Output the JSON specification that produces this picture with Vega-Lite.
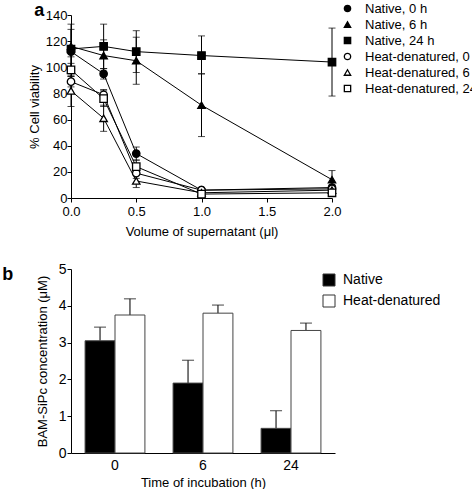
{
  "$schema": "https://vega.github.io/schema/vega-lite/v6.json",
  "padding": {"left": 2, "top": 2, "right": 0, "bottom": 0},
  "background": "white",
  "config": {
    "font": "Liberation Sans",
    "view": {"stroke": null},
    "axis": {"domainColor": "black", "tickColor": "black", "labelColor": "black", "titleColor": "black", "labelFontSize": 13, "titleFontSize": 13, "titleFontWeight": "normal", "grid": false, "tickSize": 4, "labelOverlap": false, "labelFlush": false},
    "axisY": {"labelOverlap": false},
    "axisQuantitative": {"labelOverlap": false},
    "legend": {"labelFontSize": 13, "labelColor": "black"},
    "title": {"fontSize": 18, "fontWeight": "bold", "color": "black", "anchor": "start", "frame": "bounds"}
  },
  "resolve": {
    "scale": {"x": "independent", "y": "independent", "fill": "independent", "shape": "independent", "xOffset": "independent"},
    "legend": {"fill": "independent", "shape": "independent"},
    "axis": {"x": "independent", "y": "independent"}
  },
  "spacing": 24,
  "vconcat": [
    {
      "hconcat": [
        {
          "title": {"text": "a", "dx": 6, "offset": -11},
          "width": 261,
          "height": 183,
          "data": {"values": [
            {"v": 0, "series": "Native, 0 h", "y": 112, "lo": 108, "hi": 116},
            {"v": 0.25, "series": "Native, 0 h", "y": 95, "lo": 91, "hi": 99},
            {"v": 0.5, "series": "Native, 0 h", "y": 34, "lo": 29, "hi": 39},
            {"v": 1.0, "series": "Native, 0 h", "y": 6, "lo": 4, "hi": 8},
            {"v": 2.0, "series": "Native, 0 h", "y": 8, "lo": 6, "hi": 10},
            {"v": 0, "series": "Native, 6 h", "y": 116, "lo": 99, "hi": 133},
            {"v": 0.25, "series": "Native, 6 h", "y": 109, "lo": 97, "hi": 121},
            {"v": 0.5, "series": "Native, 6 h", "y": 105, "lo": 87, "hi": 123},
            {"v": 1.0, "series": "Native, 6 h", "y": 71, "lo": 47, "hi": 95},
            {"v": 2.0, "series": "Native, 6 h", "y": 14, "lo": 7, "hi": 21},
            {"v": 0, "series": "Native, 24 h", "y": 114, "lo": 99, "hi": 129},
            {"v": 0.25, "series": "Native, 24 h", "y": 116, "lo": 99, "hi": 133},
            {"v": 0.5, "series": "Native, 24 h", "y": 112, "lo": 96, "hi": 128},
            {"v": 1.0, "series": "Native, 24 h", "y": 109, "lo": 95, "hi": 124},
            {"v": 2.0, "series": "Native, 24 h", "y": 104, "lo": 78, "hi": 130},
            {"v": 0, "series": "Heat-denatured, 0 h", "y": 89, "lo": 85, "hi": 93},
            {"v": 0.25, "series": "Heat-denatured, 0 h", "y": 79, "lo": 75, "hi": 83},
            {"v": 0.5, "series": "Heat-denatured, 0 h", "y": 19, "lo": 15, "hi": 23},
            {"v": 1.0, "series": "Heat-denatured, 0 h", "y": 6, "lo": 4, "hi": 8},
            {"v": 2.0, "series": "Heat-denatured, 0 h", "y": 7, "lo": 5, "hi": 9},
            {"v": 0, "series": "Heat-denatured, 6 h", "y": 82, "lo": 70, "hi": 94},
            {"v": 0.25, "series": "Heat-denatured, 6 h", "y": 61, "lo": 51, "hi": 71},
            {"v": 0.5, "series": "Heat-denatured, 6 h", "y": 13, "lo": 8, "hi": 18},
            {"v": 1.0, "series": "Heat-denatured, 6 h", "y": 4, "lo": 2, "hi": 6},
            {"v": 2.0, "series": "Heat-denatured, 6 h", "y": 6, "lo": 4, "hi": 8},
            {"v": 0, "series": "Heat-denatured, 24 h", "y": 98, "lo": 93, "hi": 103},
            {"v": 0.25, "series": "Heat-denatured, 24 h", "y": 76, "lo": 70, "hi": 82},
            {"v": 0.5, "series": "Heat-denatured, 24 h", "y": 24, "lo": 19, "hi": 29},
            {"v": 1.0, "series": "Heat-denatured, 24 h", "y": 3, "lo": 1, "hi": 5},
            {"v": 2.0, "series": "Heat-denatured, 24 h", "y": 4, "lo": 2, "hi": 6}
          ]},
          "layer": [
            {
              "mark": {"type": "rule", "color": "black", "strokeWidth": 1},
              "encoding": {
                "x": {"field": "v", "type": "quantitative", "scale": {"domain": [0, 2], "nice": false, "zero": false, "padding": 0}, "axis": {"values": [0, 0.5, 1, 1.5, 2], "format": ".1f", "title": "Volume of supernatant (μl)", "titlePadding": 7, "labelPadding": 3}},
                "y": {"field": "lo", "type": "quantitative", "scale": {"domain": [0, 140], "nice": false, "padding": 0}, "axis": {"values": [0, 20, 40, 60, 80, 100, 120, 140], "title": "% Cell viability", "titlePadding": 4, "labelPadding": 0, "labelOverlap": false}},
                "y2": {"field": "hi"}
              }
            },
            {
              "mark": {"type": "tick", "orient": "horizontal", "color": "black", "size": 7, "thickness": 1},
              "encoding": {
                "x": {"field": "v", "type": "quantitative"},
                "y": {"field": "lo", "type": "quantitative", "axis": {"values": [0, 20, 40, 60, 80, 100, 120, 140], "title": "% Cell viability", "titlePadding": 4, "labelPadding": 0, "labelOverlap": false}}
              }
            },
            {
              "mark": {"type": "tick", "orient": "horizontal", "color": "black", "size": 7, "thickness": 1},
              "encoding": {
                "x": {"field": "v", "type": "quantitative"},
                "y": {"field": "hi", "type": "quantitative", "axis": {"values": [0, 20, 40, 60, 80, 100, 120, 140], "title": "% Cell viability", "titlePadding": 4, "labelPadding": 0, "labelOverlap": false}}
              }
            },
            {
              "mark": {"type": "line", "color": "black", "strokeWidth": 1},
              "encoding": {
                "x": {"field": "v", "type": "quantitative"},
                "y": {"field": "y", "type": "quantitative", "axis": {"values": [0, 20, 40, 60, 80, 100, 120, 140], "title": "% Cell viability", "titlePadding": 4, "labelPadding": 0, "labelOverlap": false}},
                "detail": {"field": "series"}
              }
            },
            {
              "mark": {"type": "point", "stroke": "black", "strokeWidth": 1.3, "opacity": 1, "filled": false, "size": 55},
              "encoding": {
                "x": {"field": "v", "type": "quantitative"},
                "y": {"field": "y", "type": "quantitative", "axis": {"values": [0, 20, 40, 60, 80, 100, 120, 140], "title": "% Cell viability", "titlePadding": 4, "labelPadding": 0, "labelOverlap": false}},
                "shape": {"field": "series", "type": "nominal", "scale": {"domain": ["Native, 0 h", "Native, 6 h", "Native, 24 h", "Heat-denatured, 0 h", "Heat-denatured, 6 h", "Heat-denatured, 24 h"], "range": ["circle", "triangle-up", "square", "circle", "triangle-up", "square"]}, "legend": {"title": null, "orient": "none", "legendX": 270, "legendY": -13, "symbolSize": 40, "symbolStrokeWidth": 1.3, "rowPadding": 2, "labelOffset": 11}},
                "fill": {"field": "series", "type": "nominal", "scale": {"domain": ["Native, 0 h", "Native, 6 h", "Native, 24 h", "Heat-denatured, 0 h", "Heat-denatured, 6 h", "Heat-denatured, 24 h"], "range": ["black", "black", "black", "white", "white", "white"]}, "legend": {"title": null, "orient": "none", "legendX": 270, "legendY": -13, "symbolSize": 40, "symbolStrokeWidth": 1.3, "rowPadding": 2, "labelOffset": 11}}
              }
            }
          ]
        }
      ]
    },
    {
      "hconcat": [
        {
          "title": {"text": "b", "dx": -34, "offset": -22},
          "width": 264,
          "height": 184,
          "data": {"values": [
            {"time": "0", "group": "Native", "c": 3.05, "up": 3.42},
            {"time": "0", "group": "Heat-denatured", "c": 3.75, "up": 4.19},
            {"time": "6", "group": "Native", "c": 1.9, "up": 2.52},
            {"time": "6", "group": "Heat-denatured", "c": 3.8, "up": 4.02},
            {"time": "24", "group": "Native", "c": 0.67, "up": 1.15},
            {"time": "24", "group": "Heat-denatured", "c": 3.33, "up": 3.53}
          ]},
          "encoding": {
            "x": {"field": "time", "type": "nominal", "sort": ["0", "6", "24"], "scale": {"paddingInner": 0.32, "paddingOuter": 0.16}, "axis": {"labelAngle": 0, "ticks": false, "title": "Time of incubation (h)", "labelPadding": 5, "titlePadding": 4, "labelFontSize": 14}},
            "xOffset": {"field": "group", "type": "nominal", "sort": ["Native", "Heat-denatured"]}
          },
          "layer": [
            {
              "mark": {"type": "rule", "color": "#222", "strokeWidth": 1.2},
              "encoding": {
                "y": {"field": "c", "type": "quantitative", "scale": {"domain": [0, 5], "nice": false}, "axis": {"values": [0, 1, 2, 3, 4, 5], "title": "BAM-SiPc concentration (μM)", "titlePadding": 9, "labelPadding": 1, "labelFontSize": 14, "labelOverlap": false}},
                "y2": {"field": "up"}
              }
            },
            {
              "mark": {"type": "tick", "orient": "horizontal", "color": "#222", "size": 12, "thickness": 1.2},
              "encoding": {
                "y": {"field": "up", "type": "quantitative", "axis": {"values": [0, 1, 2, 3, 4, 5], "title": "BAM-SiPc concentration (μM)", "titlePadding": 9, "labelPadding": 1, "labelFontSize": 14, "labelOverlap": false}}
              }
            },
            {
              "mark": {"type": "bar", "stroke": "#444", "strokeWidth": 1},
              "encoding": {
                "y": {"field": "c", "type": "quantitative", "axis": {"values": [0, 1, 2, 3, 4, 5], "title": "BAM-SiPc concentration (μM)", "titlePadding": 9, "labelPadding": 1, "labelFontSize": 14, "labelOverlap": false}},
                "fill": {"field": "group", "type": "nominal", "scale": {"domain": ["Native", "Heat-denatured"], "range": ["black", "white"]}, "legend": {"title": null, "orient": "none", "legendX": 251, "legendY": 4, "symbolType": "square", "symbolSize": 144, "symbolStrokeColor": "#333", "symbolStrokeWidth": 1, "labelFontSize": 14, "rowPadding": 5, "labelOffset": 7}}
              }
            }
          ]
        }
      ]
    }
  ]
}
